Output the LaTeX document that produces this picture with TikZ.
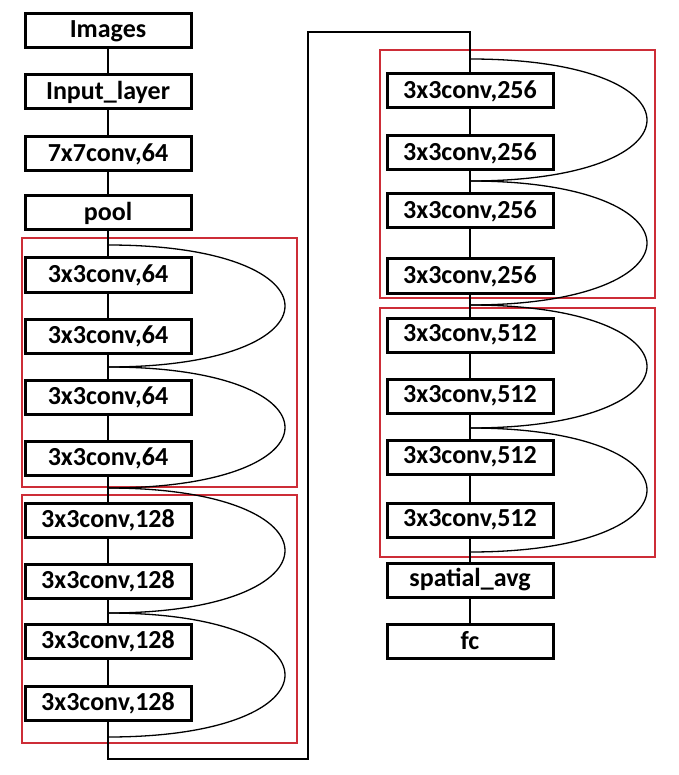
\documentclass[tikz,border=0pt]{standalone}
\usepackage{fontspec}
\setmainfont{Carlito}
\usetikzlibrary{positioning}

\begin{document}
\begin{tikzpicture}[x=1pt, y=-1pt,
    layer/.style={rectangle, draw, line width=3pt, fill=white, minimum width=166pt, minimum height=34pt, inner sep=0pt, font=\bfseries\fontsize{26}{26}\selectfont},
    link/.style={line width=1.3pt},
    skip/.style={line width=1.3pt},
    block/.style={draw={rgb,255:red,205;green,45;blue,55}, line width=1.3pt}
]
\useasboundingbox (0,0) rectangle (678,775);
% red blocks
\draw[block] (22,238) rectangle (297,487);
\draw[block] (22,495) rectangle (297,743);
\draw[block] (380,50) rectangle (655,298);
\draw[block] (380,308) rectangle (655,557);
% left column
\node[layer] (img) at (108,31) {Images};
\node[layer] (inp) at (108,92) {Input\_layer};
\node[layer] (c7) at (108,154) {7x7conv,64};
\node[layer] (pool) at (108,213) {pool};
\node[layer] (a1) at (108,275) {3x3conv,64};
\node[layer] (a2) at (108,336) {3x3conv,64};
\node[layer] (a3) at (108,397) {3x3conv,64};
\node[layer] (a4) at (108,458) {3x3conv,64};
\node[layer] (b1) at (108,520) {3x3conv,128};
\node[layer] (b2) at (108,581) {3x3conv,128};
\node[layer] (b3) at (108,641) {3x3conv,128};
\node[layer] (b4) at (108,703) {3x3conv,128};
% right column
\node[layer] (c1) at (470,91) {3x3conv,256};
\node[layer] (c2) at (470,153) {3x3conv,256};
\node[layer] (c3) at (470,211) {3x3conv,256};
\node[layer] (c4) at (470,276) {3x3conv,256};
\node[layer] (d1) at (470,335) {3x3conv,512};
\node[layer] (d2) at (470,396) {3x3conv,512};
\node[layer] (d3) at (470,457) {3x3conv,512};
\node[layer] (d4) at (470,520) {3x3conv,512};
\node[layer] (avg) at (470,580) {spatial\_avg};
\node[layer] (fc) at (470,641) {fc};
% junctions of the shortcuts
\coordinate (ja0) at (108,245);
\coordinate (ja1) at (108,367);
\coordinate (ja2) at (108,488);
\coordinate (ja3) at (108,613);
\coordinate (ja4) at (108,737);
\coordinate (jc0) at (470,59);
\coordinate (jc1) at (470,181);
\coordinate (jc2) at (470,305);
\coordinate (jc3) at (470,428);
\coordinate (jc4) at (470,552);
\coordinate (turnA) at (308,759);
\coordinate (turnB) at (308,32);
% main path
\draw[link] (img)--(inp)--(c7)--(pool)--(a1)--(a2)--(a3)--(a4)--(b1)--(b2)--(b3)--(b4);
\draw[link] (b4) -- (b4|-turnA) -- (turnA) -- (turnB) -- (turnB-|c1) -- (c1);
\draw[link] (c1)--(c2)--(c3)--(c4)--(d1)--(d2)--(d3)--(d4)--(avg)--(fc);
% shortcuts
\foreach \s/\t in {ja0/ja1, ja1/ja2, ja2/ja3, ja3/ja4, jc0/jc1, jc1/jc2, jc2/jc3, jc3/jc4}
  \draw[skip] (\s) .. controls +(236,0) and +(236,0) .. (\t);
\end{tikzpicture}
\end{document}
